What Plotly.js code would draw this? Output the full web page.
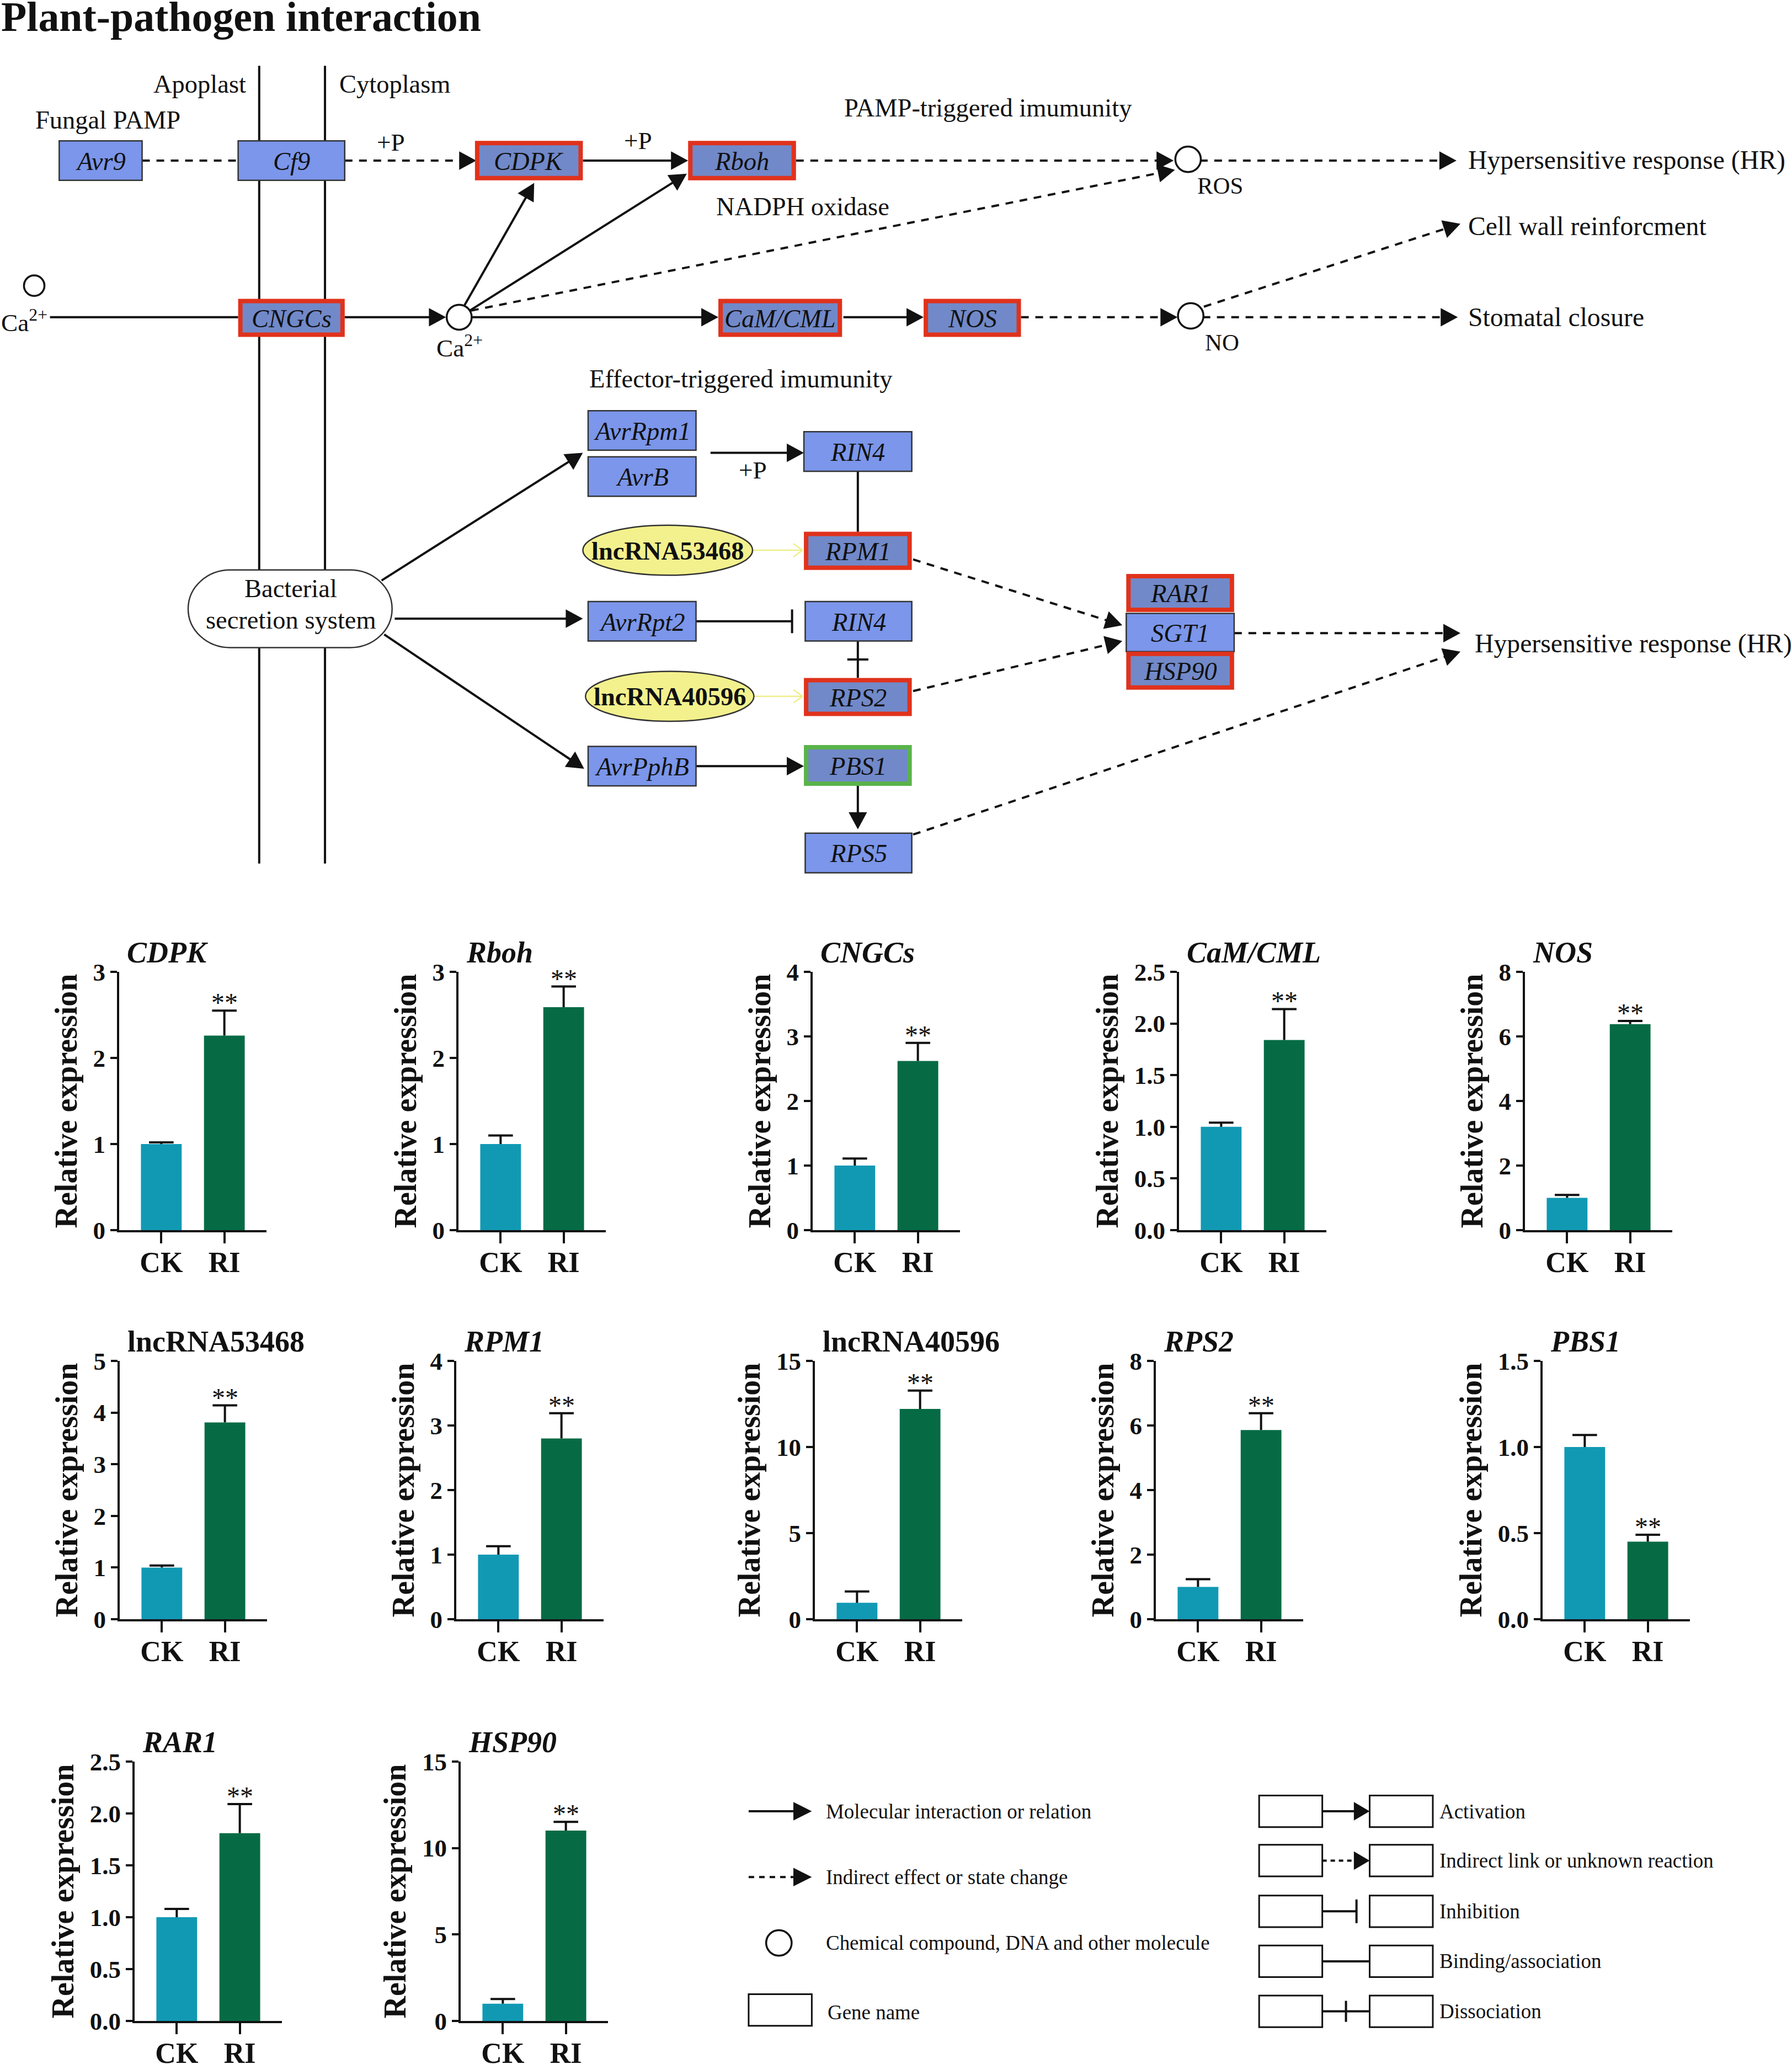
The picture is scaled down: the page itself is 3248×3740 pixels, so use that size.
<!DOCTYPE html>
<html><head><meta charset="utf-8">
<script src="https://cdn.plot.ly/plotly-3.0.1.min.js"></script>
<style>html,body{margin:0;padding:0;background:#fff}</style>
</head><body>
<div id="chart" style="width:3248px;height:3740px"></div>
<script>
// ---------------- DATA ----------------
const genes  = ['CDPK','Rboh','CNGCs','CaM/CML','NOS','lncRNA53468','RPM1','lncRNA40596','RPS2','PBS1','RAR1','HSP90'];
const groups = ['CK','RI'];
const ckMean = [1.00,1.00,1.00,1.00,1.00,1.00,1.00,0.95,1.00,1.00,1.00,1.00];
const ckErr  = [0.02,0.10,0.11,0.04,0.09,0.04,0.13,0.66,0.24,0.07,0.08,0.27];
const riMean = [2.26,2.59,2.62,1.84,6.38,3.81,2.80,12.21,5.86,0.45,1.81,11.01];
const riErr  = [0.29,0.24,0.28,0.30,0.10,0.33,0.39,1.07,0.52,0.04,0.28,0.50];
const sigMark= ['**','**','**','**','**','**','**','**','**','**','**','**'];
const yMax   = [3,3,4,2.5,8,5,4,15,8,1.5,2.5,15];
const yStep  = [1,1,1,0.5,2,1,1,5,2,0.5,0.5,5];
const yTitle = 'Relative expression';

// ---------------- LAYOUT GEOMETRY ----------------
const W = 3248, H = 3740;
const S = W / 1362;               // diagram units -> px
const FONT = 'Liberation Serif, Times New Roman, serif';
const panelLeft = [216,831,1473,2137,2764, 217,827,1477,2095,2796, 244,835];
const panelRow  = [0,0,0,0,0, 1,1,1,1,1, 2,2];
const rowTop    = [1761,2466,3192];
const rowBottom = [2229,2934,3662];
const PW = 267;
const CK_COLOR = '#1199b4', RI_COLOR = '#066b45';

const traces = [];
const layout = {
  width: W, height: H, margin:{l:0,r:0,t:0,b:0},
  paper_bgcolor:'#fff', plot_bgcolor:'rgba(0,0,0,0)',
  font:{family:FONT, color:'#111'},
  showlegend:false,
  xaxis:{domain:[0,1], range:[0,1362], visible:false, fixedrange:true},
  yaxis:{domain:[0,1], range:[1568,0], visible:false, fixedrange:true},
  shapes:[], annotations:[]
};
// anchor trace for diagram axis
traces.push({type:'scatter', x:[0], y:[0], mode:'markers', marker:{opacity:0}, xaxis:'x', yaxis:'y', hoverinfo:'skip'});

genes.forEach((g,i)=>{
  const n = i+2, xa='x'+n, ya='y'+n;
  const r = panelRow[i];
  const L = panelLeft[i];
  layout['xaxis'+n] = {
    domain:[L/W,(L+PW)/W], anchor:ya, range:[-0.668,1.668],
    tickvals:[0,1], ticktext:groups, showline:true, linecolor:'#111', linewidth:4,
    ticks:'outside', ticklen:20, tickwidth:4, tickcolor:'#111', ticklabelstandoff:-10,
    tickfont:{family:FONT, size:52, weight:'bold', color:'#111'},
    showgrid:false, zeroline:false, fixedrange:true
  };
  layout['yaxis'+n] = {
    domain:[1-rowBottom[r]/H, 1-rowTop[r]/H], anchor:xa, range:[0,yMax[i]],
    tick0:0, dtick:yStep[i], tickformat: (yStep[i]<1?'.1f':''),
    showline:true, linecolor:'#111', linewidth:4,
    ticks:'outside', ticklen:12, tickwidth:4, tickcolor:'#111',
    tickfont:{family:FONT, size:45, weight:'bold', color:'#111'},
    showgrid:false, zeroline:false, fixedrange:true,
    title:{text:'<b>'+yTitle+'</b>', font:{family:FONT, size:56, color:'#111'}, standoff:12}
  };
  traces.push({type:'bar', x:[0,1], y:[ckMean[i], riMean[i]], width:0.646,
    marker:{color:[CK_COLOR, RI_COLOR], line:{width:0}}, xaxis:xa, yaxis:ya, hoverinfo:'skip'});
  const cw = 0.195;
  const ex=[], ey=[];
  [[0,ckMean[i],ckErr[i]],[1,riMean[i],riErr[i]]].forEach(([x,m,e])=>{
    ex.push(x,x,null,x-cw,x+cw,null);
    ey.push(m,m+e,null,m+e,m+e,null);
  });
  traces.push({type:'scatter', mode:'lines', x:ex, y:ey, line:{color:'#111', width:4},
    xaxis:xa, yaxis:ya, hoverinfo:'skip', connectgaps:false, cliponaxis:false});
  layout.annotations.push({xref:xa, yref:ya, x:1, y:riMean[i]+riErr[i], text:sigMark[i],
    showarrow:false, yanchor:'bottom', yshift:-14, font:{family:FONT, size:48, color:'#111'}});
  const isLnc = g.startsWith('lnc');
  layout.annotations.push({xref:'paper', yref:'paper', x:(L+12)/W, y:1-(rowTop[r]-35)/H,
    xanchor:'left', yanchor:'middle', showarrow:false,
    text: isLnc ? '<b>'+g+'</b>' : '<b><i>'+g+'</i></b>',
    font:{family:FONT, size:54, color:'#111'}});
});

// ---------------- DIAGRAM ----------------
const shp = layout.shapes, ann = layout.annotations;
const LW = 4, DASH = '14px,12px', INK = '#111';
function seg(x0,y0,x1,y1,dash,color,w){
  shp.push({type:'line', xref:'x', yref:'y', x0, y0, x1, y1, layer:'above',
    line:{color:color||INK, width:w||LW, dash:dash||'solid'}});
}
function head(x0,y0,x1,y1,L,hw){
  const dx=x1-x0, dy=y1-y0, d=Math.hypot(dx,dy), ux=dx/d, uy=dy/d;
  const bx=x1-ux*L, by=y1-uy*L, px=-uy, py=ux;
  shp.push({type:'path', xref:'x', yref:'y', layer:'above', fillcolor:INK, line:{width:0},
    path:`M${x1},${y1} L${bx+px*hw},${by+py*hw} L${bx-px*hw},${by-py*hw} Z`});
  return [bx+ux*1, by+uy*1];
}
function arrow(x0,y0,x1,y1,dash,L,hw){
  const b = head(x0,y0,x1,y1,L||13,hw||7);
  seg(x0,y0,b[0],b[1],dash);
}
function yarrow(x0,y0,x1,y1){
  const col='#eeee8a';
  seg(x0,y0,x1,y1,'solid',col,2.5);
  seg(x1-7,y1-5,x1,y1,'solid',col,2.5);
  seg(x1-7,y1+5,x1,y1,'solid',col,2.5);
}
function txt(x,y,t,size,opts){
  ann.push(Object.assign({xref:'x', yref:'y', x, y, text:t, showarrow:false,
    xanchor:'center', yanchor:'middle', font:{family:FONT, size:size*S, color:INK}}, opts||{}));
}
const BLUE='#7b96ea', DBLUE='#7189c9', RED='#e0321c', GREEN='#5ab34a';
function box(x0,y0,x1,y1,label,kind){
  let fill=BLUE, lc='#333', lw=2.5, inset=0;
  if(kind==='red'){fill=DBLUE; lc=RED; lw=8; inset=4/S;}
  if(kind==='green'){fill=DBLUE; lc=GREEN; lw=8; inset=4/S;}
  shp.push({type:'rect', xref:'x', yref:'y', layer:'above', x0:x0+inset, y0:y0+inset, x1:x1-inset, y1:y1-inset,
    fillcolor:fill, line:{color:lc, width:lw}});
  txt((x0+x1)/2,(y0+y1)/2+0.5,'<i>'+label+'</i>',19.5);
}
function ellipseNode(x0,y0,x1,y1,label){
  shp.push({type:'circle', xref:'x', yref:'y', layer:'above', x0, y0, x1, y1,
    fillcolor:'#f3f18d', line:{color:'#333', width:2.5}});
  txt((x0+x1)/2,(y0+y1)/2+0.5,'<b>'+label+'</b>',19.5);
}
function circ(cx,cy,r){
  shp.push({type:'circle', xref:'x', yref:'y', layer:'above', x0:cx-r, y0:cy-r, x1:cx+r, y1:cy+r,
    fillcolor:'#fff', line:{color:INK, width:3.5}});
}

// title
txt(0,12.5,'<b>Plant-pathogen interaction</b>',31.8,{xanchor:'left'});

// membranes
seg(197,50,197,656); seg(247,50,247,656);

// edges (PAMP)
seg(108,122,181,122,DASH);
arrow(262,122,362,122,DASH);
arrow(443,122,523,122);
arrow(605,122,892,122,DASH);
arrow(912,122,1107,122,DASH);
seg(38,241,181,241);
arrow(262,241,339,241);
arrow(353,232,406,139);
arrow(357,236,522,132);
arrow(358,236,893,129,DASH);
arrow(358,241,546,241);
arrow(641,241,702,241);
arrow(776,241,895,241,DASH);
arrow(915,233,1110,170,DASH);
arrow(914,241,1108,241,DASH);

// edges (ETI)
arrow(290,441,443,344);
arrow(300,470,443,470);
arrow(292,482,444,584);
arrow(540,344,611,344);
seg(652,358,652,404);
yarrow(572,418,610,418);
seg(529,472,602,472); seg(602,463,602,481);
seg(652,487,652,515); seg(644,501,660,501);
yarrow(573,529,610,529);
arrow(529,582,611,582);
arrow(652,597,652,630);
arrow(694,425,853,475,DASH);
arrow(694,525,853,487,DASH);
arrow(938,481,1110,481,DASH);
arrow(694,634,1110,495,DASH);

// nodes
box(45,107,108,137,'Avr9','blue');
box(181,107,262,137,'Cf9','blue');
box(361,107,443,137,'CDPK','red');
box(523,107,605,137,'Rboh','red');
box(181,227,262,256,'CNGCs','red');
box(546,227,640,256,'CaM/CML','red');
box(702,227,776,256,'NOS','red');
box(447,312,529,342,'AvrRpm1','blue');
box(447,347,529,377,'AvrB','blue');
box(611,328,693,358,'RIN4','blue');
box(611,404,693,433,'RPM1','red');
box(447,457,529,487,'AvrRpt2','blue');
box(612,457,693,487,'RIN4','blue');
box(611,515,693,544,'RPS2','red');
box(447,567,529,597,'AvrPphB','blue');
box(611,566,693,597,'PBS1','green');
box(612,633,693,663,'RPS5','blue');
box(856,436,938,465,'RAR1','red');
box(856,466,938,495,'SGT1','blue');
box(856,495,938,524,'HSP90','red');
ellipseNode(443,399,572,437,'lncRNA53468');
ellipseNode(445,510,573,548,'lncRNA40596');

// bacterial pill
(function(){
  const x0=143,x1=298,y0=433,y1=492,rx=32,ry=(y1-y0)/2,k=0.5523,cy=(y0+y1)/2;
  const p=`M${x0+rx},${y0} L${x1-rx},${y0} C${x1-rx+rx*k},${y0} ${x1},${cy-ry*k} ${x1},${cy} C${x1},${cy+ry*k} ${x1-rx+rx*k},${y1} ${x1-rx},${y1} L${x0+rx},${y1} C${x0+rx-rx*k},${y1} ${x0},${cy+ry*k} ${x0},${cy} C${x0},${cy-ry*k} ${x0+rx-rx*k},${y0} ${x0+rx},${y0} Z`;
  shp.push({type:'path', xref:'x', yref:'y', layer:'above', path:p, fillcolor:'#fff', line:{color:'#333', width:2.5}});
})();
txt(221,447,'Bacterial',19.5);
txt(221,471,'secretion system',19.5);

// small molecules
circ(26,217,7.8); circ(349,241,9.5); circ(903,121,9.7); circ(905,240,9.7);
txt(0,244,'Ca<sup>2+</sup>',19,{xanchor:'left'});
txt(331,263,'Ca<sup>2+</sup>',19,{xanchor:'left'});
txt(909,141,'ROS',18,{xanchor:'left'});
txt(915,260,'NO',18,{xanchor:'left'});

// labels
txt(297,108,'+P',19); txt(485,107,'+P',19); txt(572,357,'+P',19);
txt(152,64,'Apoplast',19.5);
txt(257,64,'Cytoplasm',19.5,{xanchor:'left'});
txt(82,91,'Fungal PAMP',19.5);
txt(751,82,'PAMP-triggered imumunity',19.5);
txt(610,157,'NADPH oxidase',19.5);
txt(563,288,'Effector-triggered imumunity',19.5);
txt(1115,122,'Hypersensitive response (HR)',20,{xanchor:'left'});
txt(1115,172,'Cell wall reinforcment',20,{xanchor:'left'});
txt(1115,241,'Stomatal closure',20,{xanchor:'left'});
txt(1120,489,'Hypersensitive response (HR)',20,{xanchor:'left'});

// ---------------- KEY ----------------
const KF = 15.5;
arrow(569,1376,617,1376,'solid',14,7);
arrow(569,1426,617,1426,'10px,9px',14,7);
circ(592,1476,9.7);
shp.push({type:'rect', xref:'x', yref:'y', layer:'above', x0:569, y0:1515, x1:617, y1:1539, fillcolor:'#fff', line:{color:INK, width:3}});
txt(627,1376,'Molecular interaction or relation',KF,{xanchor:'left'});
txt(627,1426,'Indirect effect or state change',KF,{xanchor:'left'});
txt(627,1476,'Chemical compound, DNA and other molecule',KF,{xanchor:'left'});
txt(628,1529,'Gene name',KF,{xanchor:'left'});

const keyRows = [1376,1413.5,1452,1490,1528];
const keyText = ['Activation','Indirect link or unknown reaction','Inhibition','Binding/association','Dissociation'];
keyRows.forEach((yc,k)=>{
  if(k===0) arrow(1005,yc,1041,yc,'solid',12,7);
  if(k===1) arrow(1005,yc,1041,yc,'8px,7px',12,7);
  if(k===2){ seg(1005,yc,1031,yc); seg(1031,yc-9,1031,yc+9); }
  if(k===3) seg(1005,yc,1041,yc);
  if(k===4){ seg(1005,yc,1041,yc); seg(1023,yc-8,1023,yc+8); }
  [[957,1005],[1041,1089]].forEach(([a,b])=>{
    shp.push({type:'rect', xref:'x', yref:'y', layer:'above', x0:a, y0:yc-12, x1:b, y1:yc+12, fillcolor:'#fff', line:{color:INK, width:3}});
  });
  txt(1093,yc,keyText[k],KF,{xanchor:'left'});
});

Plotly.newPlot('chart', traces, layout, {staticPlot:true, displayModeBar:false});
</script>
</body></html>
